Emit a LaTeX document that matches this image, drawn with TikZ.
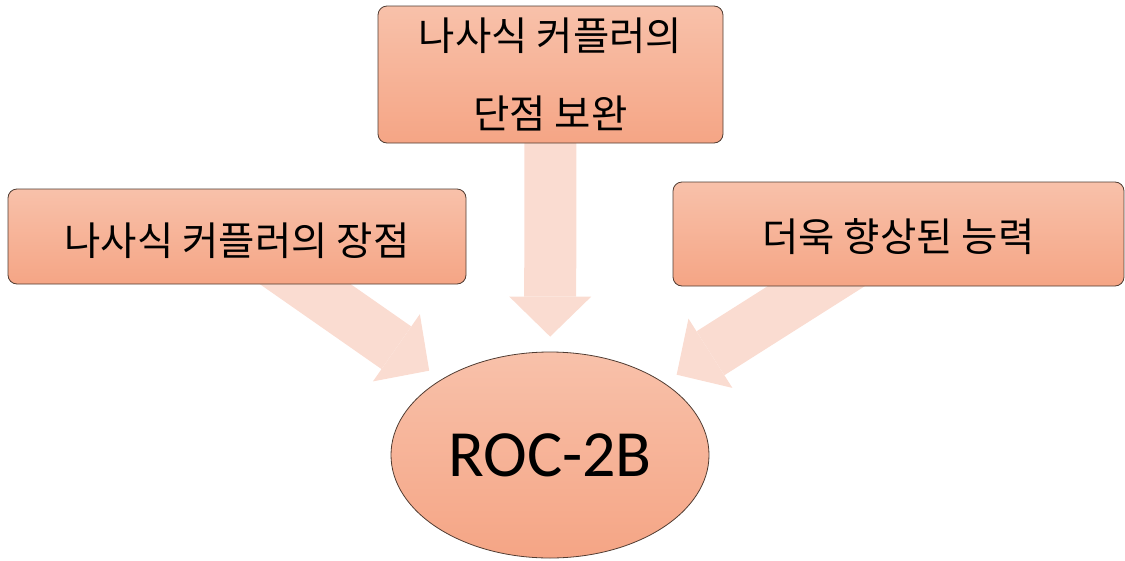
\documentclass[tikz,border=0pt]{standalone}
\usepackage{fontspec}
\newfontfamily\krfont{Noto Sans CJK KR}
\newfontfamily\calfont{Carlito}
\usetikzlibrary{arrows.meta,shapes.geometric}
\pgfdeclarelayer{bg}
\pgfsetlayers{bg,main}
\definecolor{boxtop}{RGB}{248,193,170}
\definecolor{boxbot}{RGB}{245,165,133}
\definecolor{boxline}{RGB}{80,60,50}
\definecolor{arrowc}{RGB}{250,220,209}
\tikzset{
  box/.style={rectangle, rounded corners=9pt, draw=boxline, line width=0.8pt,
    top color=boxtop, bottom color=boxbot, inner sep=0pt, align=center,
    font=\krfont\fontsize{39.5}{78}\selectfont},
  hub/.style={ellipse, draw=boxline, line width=0.8pt, top color=boxtop,
    bottom color=boxbot, inner sep=0pt, minimum width=318pt, minimum height=206pt,
    font=\calfont\fontsize{66}{72}\selectfont},
  bigarrow/.style={draw=arrowc, line width=52pt, shorten >=15pt,
    -{Triangle[length=40pt 0 0, width=82pt 0 0, line width=0pt 0 0]}}
}
\begin{document}
\begin{tikzpicture}[x=1pt,y=-1pt]
\useasboundingbox (0,0) rectangle (1125,560);
\node[box, minimum width=345pt, minimum height=137pt] (top) at (550.5,74.5) {나사식 커플러의\\단점 보완};
\node[box, minimum width=458pt, minimum height=95pt] (left) at (237,236.5) {\raisebox{-4pt}[\height][\depth]{나사식 커플러의 장점}};
\node[box, minimum width=451pt, minimum height=104pt] (right) at (898.5,234) {\raisebox{-3pt}[\height][\depth]{더욱 향상된 능력}};
\node[hub] (hub) at (550,455) {ROC-2B};
\begin{pgfonlayer}{bg}
\draw[bigarrow] (top.center) -- (hub);
\draw[bigarrow] (left.center) -- (hub);
\draw[bigarrow] (right.center) -- (hub);
\end{pgfonlayer}
\end{tikzpicture}
\end{document}
